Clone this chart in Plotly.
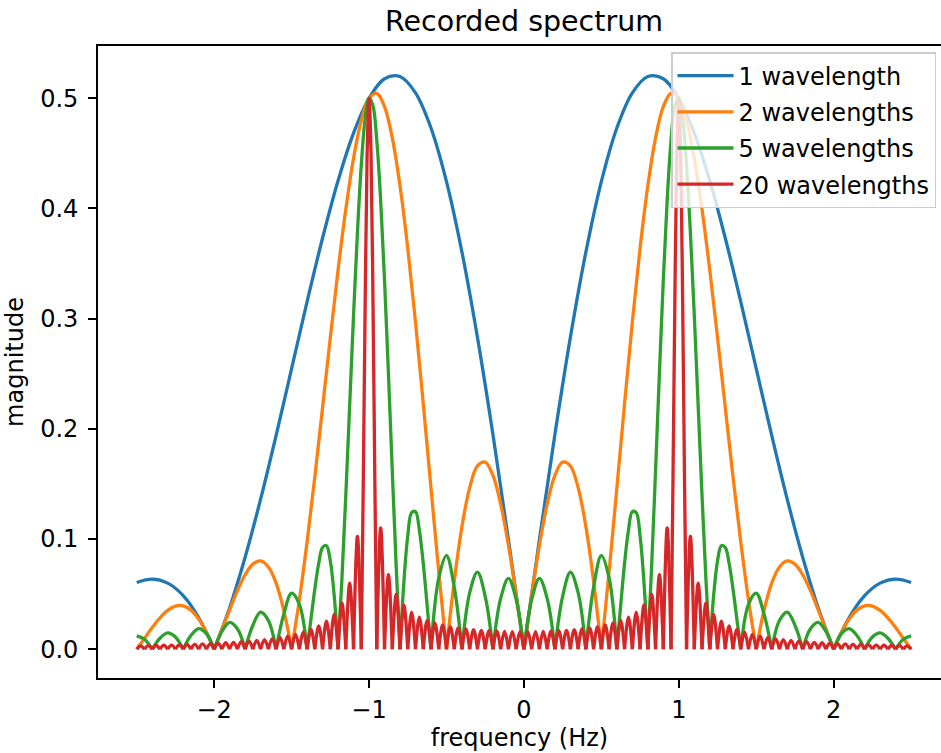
import plotly.graph_objects as go

# ---------------- data ----------------
series_names = ["1 wavelength", "2 wavelengths", "5 wavelengths", "20 wavelengths"]
series_colors = ["#1f77b4", "#ff7f0e", "#2ca02c", "#d62728"]

blue_f = [-2.5, -2.4, -2.3, -2.2, -2.1, -2.0, -1.9, -1.8, -1.7, -1.6, -1.5, -1.4, -1.3, -1.2, -1.1,
          -1.0, -0.9, -0.8, -0.7, -0.6, -0.5, -0.4, -0.3, -0.2, -0.1, 0.0,
          0.1, 0.2, 0.3, 0.4, 0.5, 0.6, 0.7, 0.8, 0.9, 1.0, 1.1, 1.2, 1.3, 1.4, 1.5,
          1.6, 1.7, 1.8, 1.9, 2.0, 2.1, 2.2, 2.3, 2.4, 2.5]
blue_mag = [0.0606, 0.0636, 0.0600, 0.0487, 0.0288, 0.0, 0.0377, 0.0835, 0.1362, 0.1941, 0.2546,
            0.3154, 0.3732, 0.4252, 0.4684, 0.5000, 0.5177, 0.5197, 0.5049, 0.4730, 0.4244,
            0.3604, 0.2830, 0.1949, 0.0994, 0.0,
            0.0994, 0.1949, 0.2830, 0.3604, 0.4244, 0.4730, 0.5049, 0.5197, 0.5177, 0.5000,
            0.4684, 0.4252, 0.3732, 0.3154, 0.2546, 0.1941, 0.1362, 0.0835, 0.0377, 0.0,
            0.0288, 0.0487, 0.0600, 0.0636, 0.0606]

orange_f = [-2.5, -2.45, -2.4, -2.35, -2.3, -2.25, -2.2, -2.15, -2.1, -2.05, -2.0,
            -1.95, -1.9, -1.85, -1.8, -1.75, -1.7, -1.65, -1.6, -1.55, -1.5,
            -1.45, -1.4, -1.35, -1.3, -1.25, -1.2, -1.15, -1.1, -1.05, -1.0,
            -0.95, -0.9, -0.85, -0.8, -0.75, -0.7, -0.65, -0.6, -0.55, -0.5,
            -0.45, -0.4, -0.35, -0.3, -0.25, -0.2, -0.15, -0.1, -0.05, 0.0,
            0.05, 0.1, 0.15, 0.2, 0.25, 0.3, 0.35, 0.4, 0.45, 0.5,
            0.55, 0.6, 0.65, 0.7, 0.75, 0.8, 0.85, 0.9, 0.95, 1.0,
            1.05, 1.1, 1.15, 1.2, 1.25, 1.3, 1.35, 1.4, 1.45, 1.5,
            1.55, 1.6, 1.65, 1.7, 1.75, 1.8, 1.85, 1.9, 1.95, 2.0,
            2.05, 2.1, 2.15, 2.2, 2.25, 2.3, 2.35, 2.4, 2.45, 2.5]
orange_mag = [0.0, 0.0098, 0.0197, 0.0285, 0.0353, 0.0392, 0.0394, 0.0355, 0.0274, 0.0154, 0.0,
              0.0175, 0.0358, 0.0532, 0.0676, 0.0772, 0.0801, 0.0747, 0.0600, 0.0351, 0.0,
              0.0446, 0.0975, 0.1565, 0.2194, 0.2829, 0.3440, 0.3992, 0.4455, 0.4798, 0.5000,
              0.5044, 0.4924, 0.4640, 0.4205, 0.3638, 0.2968, 0.2230, 0.1462, 0.0705, 0.0,
              0.0617, 0.1114, 0.1467, 0.1663, 0.1698, 0.1577, 0.1317, 0.0945, 0.0493, 0.0,
              0.0493, 0.0945, 0.1317, 0.1577, 0.1698, 0.1663, 0.1467, 0.1114, 0.0617, 0.0,
              0.0705, 0.1462, 0.2230, 0.2968, 0.3638, 0.4205, 0.4640, 0.4924, 0.5044, 0.5000,
              0.4798, 0.4455, 0.3992, 0.3440, 0.2829, 0.2194, 0.1565, 0.0975, 0.0446, 0.0,
              0.0351, 0.0600, 0.0747, 0.0801, 0.0772, 0.0676, 0.0532, 0.0358, 0.0175, 0.0,
              0.0154, 0.0274, 0.0355, 0.0394, 0.0392, 0.0353, 0.0285, 0.0197, 0.0098, 0.0]

green_f = [-2.5, -2.45, -2.4, -2.35, -2.3, -2.25, -2.2, -2.15, -2.1, -2.05, -2.0,
           -1.95, -1.9, -1.85, -1.8, -1.75, -1.7, -1.65, -1.6, -1.55, -1.5, -1.45, -1.4,
           -1.375, -1.35, -1.325, -1.3, -1.275, -1.25, -1.225, -1.2,
           -1.175, -1.15, -1.125, -1.1, -1.075, -1.05, -1.025, -1.0,
           -0.975, -0.95, -0.925, -0.9, -0.875, -0.85, -0.825, -0.8,
           -0.775, -0.75, -0.725, -0.7, -0.675, -0.65, -0.625, -0.6,
           -0.55, -0.5, -0.45, -0.4, -0.35, -0.3, -0.25, -0.2, -0.15, -0.1, -0.05, 0.0,
           0.05, 0.1, 0.15, 0.2, 0.25, 0.3, 0.35, 0.4, 0.45, 0.5, 0.55, 0.6,
           0.625, 0.65, 0.675, 0.7, 0.725, 0.75, 0.775, 0.8,
           0.825, 0.85, 0.875, 0.9, 0.925, 0.95, 0.975, 1.0,
           1.025, 1.05, 1.075, 1.1, 1.125, 1.15, 1.175, 1.2,
           1.225, 1.25, 1.275, 1.3, 1.325, 1.35, 1.375, 1.4,
           1.45, 1.5, 1.55, 1.6, 1.65, 1.7, 1.75, 1.8, 1.85, 1.9, 1.95, 2.0,
           2.05, 2.1, 2.15, 2.2, 2.25, 2.3, 2.35, 2.4, 2.45, 2.5]
green_mag = [0.0121, 0.0090, 0.0, 0.0100, 0.0148, 0.0111, 0.0, 0.0124, 0.0187, 0.0141, 0.0,
             0.0161, 0.0244, 0.0186, 0.0, 0.0218, 0.0337, 0.0261, 0.0, 0.0321, 0.0509, 0.0408, 0.0,
             0.0274, 0.0547, 0.0778, 0.0923, 0.0940, 0.0800, 0.0487, 0.0,
             0.0640, 0.1396, 0.2214, 0.3032, 0.3779, 0.4392, 0.4813, 0.5000,
             0.4934, 0.4617, 0.4074, 0.3351, 0.2509, 0.1622, 0.0763, 0.0,
             0.0610, 0.1029, 0.1240, 0.1248, 0.1080, 0.0780, 0.0400, 0.0,
             0.0645, 0.0849, 0.0564, 0.0, 0.0513, 0.0700, 0.0480, 0.0, 0.0461, 0.0643, 0.0451, 0.0,
             0.0451, 0.0643, 0.0461, 0.0, 0.0480, 0.0700, 0.0513, 0.0, 0.0564, 0.0849, 0.0645, 0.0,
             0.0400, 0.0780, 0.1080, 0.1248, 0.1240, 0.1029, 0.0610, 0.0,
             0.0763, 0.1622, 0.2509, 0.3351, 0.4074, 0.4617, 0.4934, 0.5000,
             0.4813, 0.4392, 0.3779, 0.3032, 0.2214, 0.1396, 0.0640, 0.0,
             0.0487, 0.0800, 0.0940, 0.0923, 0.0778, 0.0547, 0.0274, 0.0,
             0.0408, 0.0509, 0.0321, 0.0, 0.0261, 0.0337, 0.0218, 0.0, 0.0186, 0.0244, 0.0161, 0.0,
             0.0141, 0.0187, 0.0124, 0.0, 0.0111, 0.0148, 0.0100, 0.0, 0.0090, 0.0121]

red_f = [-2.5, -2.475, -2.45, -2.425, -2.4, -2.375, -2.35, -2.325, -2.3, -2.275, -2.25,
         -2.225, -2.2, -2.175, -2.15, -2.125, -2.1, -2.075, -2.05, -2.025, -2.0,
         -1.975, -1.95, -1.925, -1.9, -1.875, -1.85, -1.825, -1.8, -1.775, -1.75,
         -1.725, -1.7, -1.675, -1.65, -1.625, -1.6, -1.575, -1.55, -1.525, -1.5,
         -1.475, -1.45, -1.425, -1.4, -1.375, -1.35, -1.325, -1.3, -1.275, -1.25,
         -1.225, -1.2, -1.175, -1.15, -1.125, -1.1, -1.075, -1.05,
         -1.0375, -1.025, -1.0125, -1.0, -0.9875, -0.975, -0.9625, -0.95,
         -0.925, -0.9, -0.875, -0.85, -0.825, -0.8, -0.775, -0.75,
         -0.725, -0.7, -0.675, -0.65, -0.625, -0.6, -0.575, -0.55, -0.525, -0.5,
         -0.475, -0.45, -0.425, -0.4, -0.375, -0.35, -0.325, -0.3, -0.275, -0.25,
         -0.225, -0.2, -0.175, -0.15, -0.125, -0.1, -0.075, -0.05, -0.025, 0.0,
         0.025, 0.05, 0.075, 0.1, 0.125, 0.15, 0.175, 0.2, 0.225, 0.25,
         0.275, 0.3, 0.325, 0.35, 0.375, 0.4, 0.425, 0.45, 0.475, 0.5,
         0.525, 0.55, 0.575, 0.6, 0.625, 0.65, 0.675, 0.7, 0.725, 0.75,
         0.775, 0.8, 0.825, 0.85, 0.875, 0.9, 0.925, 0.95,
         0.9625, 0.975, 0.9875, 1.0, 1.0125, 1.025, 1.0375, 1.05,
         1.075, 1.1, 1.125, 1.15, 1.175, 1.2, 1.225, 1.25,
         1.275, 1.3, 1.325, 1.35, 1.375, 1.4, 1.425, 1.45, 1.475, 1.5,
         1.525, 1.55, 1.575, 1.6, 1.625, 1.65, 1.675, 1.7, 1.725, 1.75,
         1.775, 1.8, 1.825, 1.85, 1.875, 1.9, 1.925, 1.95, 1.975, 2.0,
         2.025, 2.05, 2.075, 2.1, 2.125, 2.15, 2.175, 2.2, 2.225, 2.25,
         2.275, 2.3, 2.325, 2.35, 2.375, 2.4, 2.425, 2.45, 2.475, 2.5]
red_mag = [0.0, 0.0031, 0.0, 0.0033, 0.0, 0.0034, 0.0, 0.0036, 0.0, 0.0038, 0.0,
           0.0040, 0.0, 0.0043, 0.0, 0.0045, 0.0, 0.0048, 0.0, 0.0051, 0.0,
           0.0055, 0.0, 0.0059, 0.0, 0.0063, 0.0, 0.0068, 0.0, 0.0074, 0.0,
           0.0081, 0.0, 0.0088, 0.0, 0.0097, 0.0, 0.0108, 0.0, 0.0120, 0.0,
           0.0135, 0.0, 0.0154, 0.0, 0.0179, 0.0, 0.0211, 0.0, 0.0254, 0.0,
           0.0318, 0.0, 0.0418, 0.0, 0.0599, 0.0, 0.1023, 0.0,
           0.1473, 0.3144, 0.4474, 0.5000, 0.4530, 0.3220, 0.1529, 0.0,
           0.1102, 0.0, 0.0679, 0.0, 0.0498, 0.0, 0.0399, 0.0,
           0.0336, 0.0, 0.0292, 0.0, 0.0261, 0.0, 0.0238, 0.0, 0.0220, 0.0,
           0.0206, 0.0, 0.0194, 0.0, 0.0185, 0.0, 0.0178, 0.0, 0.0172, 0.0,
           0.0168, 0.0, 0.0164, 0.0, 0.0162, 0.0, 0.0160, 0.0, 0.0159, 0.0,
           0.0159, 0.0, 0.0160, 0.0, 0.0162, 0.0, 0.0164, 0.0, 0.0168, 0.0,
           0.0172, 0.0, 0.0178, 0.0, 0.0185, 0.0, 0.0194, 0.0, 0.0206, 0.0,
           0.0220, 0.0, 0.0238, 0.0, 0.0261, 0.0, 0.0292, 0.0, 0.0336, 0.0,
           0.0399, 0.0, 0.0498, 0.0, 0.0679, 0.0, 0.1102, 0.0,
           0.1529, 0.3220, 0.4530, 0.5000, 0.4474, 0.3144, 0.1473, 0.0,
           0.1023, 0.0, 0.0599, 0.0, 0.0418, 0.0, 0.0318, 0.0,
           0.0254, 0.0, 0.0211, 0.0, 0.0179, 0.0, 0.0154, 0.0, 0.0135, 0.0,
           0.0120, 0.0, 0.0108, 0.0, 0.0097, 0.0, 0.0088, 0.0, 0.0081, 0.0,
           0.0074, 0.0, 0.0068, 0.0, 0.0063, 0.0, 0.0059, 0.0, 0.0055, 0.0,
           0.0051, 0.0, 0.0048, 0.0, 0.0045, 0.0, 0.0043, 0.0, 0.0040, 0.0,
           0.0038, 0.0, 0.0036, 0.0, 0.0034, 0.0, 0.0033, 0.0, 0.0031, 0.0]

x_tick_vals = [-2, -1, 0, 1, 2]
x_tick_text = ["\u22122", "\u22121", "0", "1", "2"]
y_tick_vals = [0.0, 0.1, 0.2, 0.3, 0.4, 0.5]
y_tick_text = ["0.0", "0.1", "0.2", "0.3", "0.4", "0.5"]


def lobes(f, m):
    """Split a curve into separate lobes at its interior zeros so each lobe is
    smoothed on its own and the cusps at the zeros stay sharp."""
    xs, ys = [], []
    n = len(f)
    for i in range(n):
        xs.append(f[i])
        ys.append(m[i])
        if m[i] == 0 and 0 < i < n - 1:
            xs += [None, f[i]]
            ys += [None, m[i]]
    return xs, ys


FONT = "DejaVu Sans"
FS = 24
curves = [(blue_f, blue_mag), (orange_f, orange_mag), (green_f, green_mag), (red_f, red_mag)]

fig = go.Figure()
for (f, m), name, color in zip(curves, series_names, series_colors):
    xs, ys = lobes(f, m)
    fig.add_trace(go.Scatter(
        x=xs, y=ys, mode="lines", name=name, legendgroup=name,
        line=dict(color=color, width=3.3, shape="spline", smoothing=1.0),
        connectgaps=False, hoverinfo="skip",
    ))

W, H = 941, 753
L, R, T, B = 98, 0, 46, 75

fig.update_layout(
    width=W, height=H,
    margin=dict(l=L, r=R, t=T, b=B, pad=0),
    paper_bgcolor="white", plot_bgcolor="white",
    font=dict(family=FONT, size=FS, color="#000000"),
    title=dict(text="Recorded spectrum", font=dict(family=FONT, size=28.5, color="#000000"),
               x=524 / W, xref="container", xanchor="center",
               y=1 - 21 / H, yref="container", yanchor="middle"),
    xaxis=dict(range=[-2.75, 2.693], tickmode="array", tickvals=x_tick_vals, ticktext=x_tick_text,
               ticks="outside", ticklen=8, tickwidth=1.8, tickcolor="#000000",
               showline=True, linecolor="#000000", linewidth=1.8, mirror=True,
               showgrid=False, zeroline=False, tickfont=dict(size=FS),
               ticklabelstandoff=1,
               title=dict(text="frequency (Hz)", font=dict(size=FS), standoff=0)),
    yaxis=dict(range=[-0.0261, 0.5474], tickmode="array", tickvals=y_tick_vals, ticktext=y_tick_text,
               ticks="outside", ticklen=8, tickwidth=1.8, tickcolor="#000000",
               showline=True, linecolor="#000000", linewidth=1.8, mirror=False,
               showgrid=False, zeroline=False, tickfont=dict(size=FS),
               ticklabelstandoff=5,
               title=dict(text="magnitude", font=dict(size=FS), standoff=10)),
    legend=dict(x=(936 - L) / (W - L - R), xanchor="right",
                y=(678 - 52) / (753 - T - B), yanchor="top",
                bgcolor="rgba(255,255,255,0.8)", bordercolor="#cccccc", borderwidth=1.5,
                font=dict(family=FONT, size=FS, color="#000000"),
                itemwidth=56, traceorder="grouped", tracegroupgap=2),
    showlegend=True,
)

fig.write_html("out.html")
